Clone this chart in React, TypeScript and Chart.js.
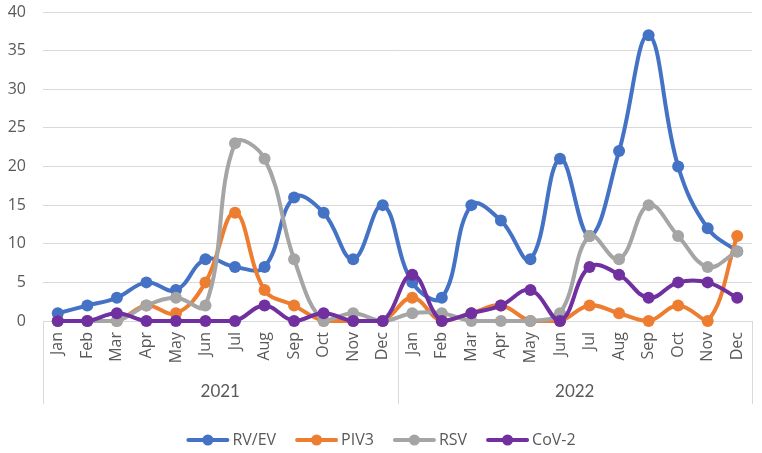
import { useEffect, useRef } from 'react';
import { Chart, registerables } from 'chart.js';

Chart.register(...registerables);

const months = ['Jan', 'Feb', 'Mar', 'Apr', 'May', 'Jun', 'Jul', 'Aug', 'Sep', 'Oct', 'Nov', 'Dec'];
const years = ['2021', '2022'];
const categories = [...months, ...months];

const rvEv = [1, 2, 3, 5, 4, 8, 7, 7, 16, 14, 8, 15, 5, 3, 15, 13, 8, 21, 11, 22, 37, 20, 12, 9];
const piv3 = [0, 0, 0, 2, 1, 5, 14, 4, 2, 0, 0, 0, 3, 0, 1, 2, 0, 0, 2, 1, 0, 2, 0, 11];
const rsv = [0, 0, 0, 2, 3, 2, 23, 21, 8, 0, 1, 0, 1, 1, 0, 0, 0, 1, 11, 8, 15, 11, 7, 9];
const cov2 = [0, 0, 1, 0, 0, 0, 0, 2, 0, 1, 0, 0, 6, 0, 1, 2, 4, 0, 7, 6, 3, 5, 5, 3];

const seriesNames = ['RV/EV', 'PIV3', 'RSV', 'CoV-2'];
const seriesColors = ['#4472C4', '#ED7D31', '#A5A5A5', '#7030A0'];
const yTicks = [0, 5, 10, 15, 20, 25, 30, 35, 40];

const axisGray = '#D9D9D9';
const textGray = '#595959';
const uiFont = '"Open Sans", "DejaVu Sans", sans-serif';
const yearFont = 'Lato, "Open Sans", sans-serif';

// Draws the year row under the month labels, with its bracket lines, and the legend.
const groupAxisAndLegend = {
  id: 'groupAxisAndLegend',
  afterDraw(chart: any) {
    const { ctx, chartArea } = chart;
    const xScale = chart.scales.x;
    const bottom = chartArea.bottom;
    const lineEnd = 404;
    ctx.save();
    ctx.strokeStyle = axisGray;
    ctx.lineWidth = 1;
    const perYear = months.length;
    const edges: number[] = [];
    for (let i = 0; i <= years.length; i++) {
      let x: number;
      if (i === 0) x = chartArea.left;
      else if (i === years.length) x = chartArea.right;
      else x = (xScale.getPixelForValue(i * perYear - 1) + xScale.getPixelForValue(i * perYear)) / 2;
      edges.push(x);
      ctx.beginPath();
      ctx.moveTo(Math.round(x) + 0.5, bottom);
      ctx.lineTo(Math.round(x) + 0.5, lineEnd);
      ctx.stroke();
    }
    ctx.fillStyle = textGray;
    ctx.font = '17px ' + yearFont;
    ctx.textAlign = 'center';
    ctx.textBaseline = 'middle';
    years.forEach((y, i) => {
      ctx.fillText(y, (edges[i] + edges[i + 1]) / 2, 392);
    });

    // legend
    const legendY = 440;
    const lineLen = 43;
    const textGap = 3;
    const itemGap = 19;
    ctx.font = '16px ' + uiFont;
    const widths = seriesNames.map((n) => lineLen + textGap + ctx.measureText(n).width);
    const total = widths.reduce((a, b) => a + b, 0) + itemGap * (seriesNames.length - 1);
    let x = chart.width / 2 - total / 2;
    seriesNames.forEach((name, i) => {
      ctx.strokeStyle = seriesColors[i];
      ctx.lineWidth = 4;
      ctx.lineCap = 'round';
      ctx.beginPath();
      ctx.moveTo(x + 2, legendY);
      ctx.lineTo(x + lineLen - 2, legendY);
      ctx.stroke();
      ctx.fillStyle = seriesColors[i];
      ctx.beginPath();
      ctx.arc(x + lineLen / 2, legendY, 5.5, 0, Math.PI * 2);
      ctx.fill();
      ctx.fillStyle = textGray;
      ctx.textAlign = 'left';
      ctx.fillText(name, x + lineLen + textGap, legendY);
      x += widths[i] + itemGap;
    });
    ctx.restore();
  },
};

export default function App() {
  const canvasRef = useRef<HTMLCanvasElement | null>(null);

  useEffect(() => {
    document.body.style.margin = '0';
    const canvas = canvasRef.current;
    if (!canvas) return;
    const allSeries = [rvEv, piv3, rsv, cov2];
    const chart = new Chart(canvas, {
      type: 'line',
      data: {
        labels: categories,
        datasets: allSeries.map((values, i) => ({
          label: seriesNames[i],
          data: values,
          borderColor: seriesColors[i],
          backgroundColor: seriesColors[i],
          borderWidth: 4,
          pointRadius: 6,
          pointBorderWidth: 0,
          pointBackgroundColor: seriesColors[i],
          tension: 0.4,
          clip: false as any,
          order: allSeries.length - 1 - i,
        })),
      },
      options: {
        responsive: false,
        animation: false,
        layout: { padding: { top: 0, right: 10, left: 0, bottom: 0 } },
        plugins: {
          legend: { display: false },
          tooltip: { enabled: false },
        },
        scales: {
          x: {
            offset: true,
            grid: { display: false, drawTicks: false },
            border: { display: true, color: axisGray, width: 1 },
            ticks: {
              color: textGray,
              font: { size: 16, family: uiFont },
              minRotation: 90,
              maxRotation: 90,
              padding: 11,
              autoSkip: false,
            },
            afterFit(scale: any) {
              scale.height = 132;
              scale.paddingLeft = 0;
              scale.paddingRight = 0;
            },
          },
          y: {
            min: 0,
            max: 40,
            afterBuildTicks(scale: any) {
              scale.ticks = yTicks.map((v) => ({ value: v }));
            },
            grid: { color: axisGray, lineWidth: 1, drawTicks: false },
            border: { display: false },
            ticks: {
              color: textGray,
              font: { size: 16, family: uiFont },
              padding: 17,
            },
            afterFit(scale: any) {
              scale.width = 43;
              scale.paddingTop = 12;
            },
          },
        },
      },
      plugins: [groupAxisAndLegend],
    });
    return () => chart.destroy();
  }, []);

  return (
    <div style={{ width: 762, height: 453 }}>
      <canvas ref={canvasRef} width={762} height={453} style={{ display: 'block' }} />
    </div>
  );
}
